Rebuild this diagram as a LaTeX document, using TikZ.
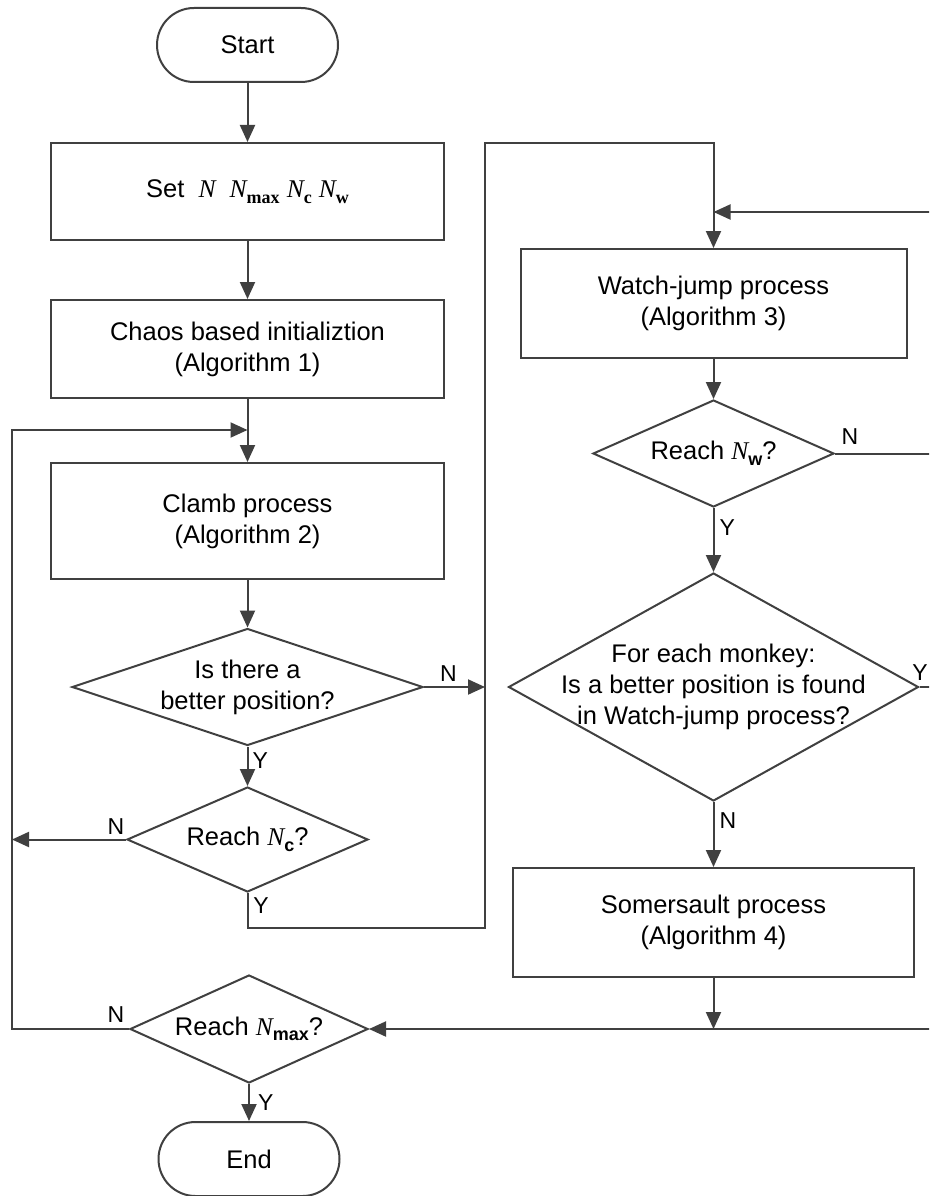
\documentclass[tikz,border=0pt]{standalone}
\usepackage{fontspec}
\setmainfont{Liberation Sans}
\newfontfamily\serifN{Liberation Serif}
\usetikzlibrary{shapes.geometric,arrows.meta}
\newcommand{\Nsans}[1]{{\serifN\itshape N}\raisebox{-0.22em}{\fontsize{18}{18}\selectfont\bfseries #1}}
\newcommand{\Nser}[1]{{\serifN\itshape N}\raisebox{-0.22em}{\serifN\fontsize{18}{18}\selectfont\bfseries #1}}
\begin{document}
\begin{tikzpicture}[x=1pt,y=-1pt,
  line width=2pt,
  every node/.style={font=\fontsize{25.5}{31}\selectfont, text=black},
  ln/.style={draw=lc, line width=2pt},
  arr/.style={ln, -{Triangle[length=17pt,width=15pt]}},
  term/.style={draw=lc, line width=2pt, rectangle, rounded corners=37pt, minimum width=181pt, minimum height=74pt, inner sep=0pt},
  proc/.style={draw=lc, line width=2pt, rectangle, align=center, inner sep=0pt},
  dia/.style={draw=lc, line width=2pt, diamond, inner sep=0pt},
  lab/.style={font=\fontsize{23}{23}\selectfont, inner sep=0pt}
]
\definecolor{lc}{HTML}{404040}
\clip (0,0) rectangle (929,1196);
\fill[white] (0,0) rectangle (929,1196);

% left column
\node[term] (start) at (247.5,45) {Start};
\node[proc, minimum width=393pt, minimum height=97pt] (set) at (247.5,191.5) {Set\ \ \Nser{}\ \ \Nser{max} \Nser{c} \Nser{w}};
\node[proc, minimum width=393pt, minimum height=98pt] (chaos) at (247.5,349) {Chaos based initializtion\\(Algorithm 1)};
\node[proc, minimum width=393pt, minimum height=116pt] (clamb) at (247.5,521) {Clamb process\\(Algorithm 2)};
\node[dia, minimum width=351pt, minimum height=117pt,
  label={[align=center]center:{Is there a\\better position?}}] (d1) at (247.5,687) {};
\node[dia, minimum width=241pt, minimum height=105pt,
  label={center:{Reach \Nsans{c}?}}] (d2) at (247.5,839.5) {};
\node[dia, minimum width=238pt, minimum height=108pt,
  label={center:{Reach \Nsans{max}?}}] (d5) at (249,1029) {};
\node[term] (end) at (249,1159) {End};

% right column
\node[proc, minimum width=386pt, minimum height=109pt] (watch) at (713.5,303.5) {Watch-jump process\\(Algorithm 3)};
\node[dia, minimum width=241pt, minimum height=107pt,
  label={center:{Reach \Nsans{w}?}}] (d3) at (713.5,453.5) {};
\node[dia, minimum width=410pt, minimum height=228pt,
  label={[align=center]center:{For each monkey:\\Is a better position is found\\in Watch-jump process?}}] (d4) at (713.5,687) {};
\node[proc, minimum width=401pt, minimum height=109pt] (soma) at (713.5,922.5) {Somersault process\\(Algorithm 4)};

% coordinates
\coordinate (mL) at (247.5,430);
\coordinate (lx1) at (12,839.5);
\coordinate (lx2) at (12,1029);
\coordinate (lx3) at (12,430);
\coordinate (j1) at (485,687);
\coordinate (c1) at (247.5,928);
\coordinate (c2) at (485,928);
\coordinate (c3) at (485,143);
\coordinate (c4) at (713.5,143);
\coordinate (rTop) at (945,212);
\coordinate (mR) at (713.5,212);
\coordinate (r3) at (945,453.5);
\coordinate (r4) at (945,687);
\coordinate (rBot) at (945,1029);
\coordinate (mB) at (713.5,1029);

% connectors
\draw[arr] (start) -- (set);
\draw[arr] (set) -- (chaos);
\draw[arr] (chaos) -- (clamb);
\draw[arr] (clamb) -- (d1);
\draw[arr] (d1.east) -- (j1) node[lab, pos=0.4, above=5pt] {N};
\draw[arr] (d1.south) -- (d2.north) node[lab, pos=0.35, right=4pt] {Y};
\draw[arr] (d2.west) -- (lx1);
\node[lab] at (116,827) {N};
\draw[arr] (d2.south) -- (c1) -- (c2) -- (c3) -- (c4) -- (watch.north);
\node[lab] at (261,906) {Y};
\draw[arr] (rTop) -- (mR);
\draw[arr] (watch) -- (d3);
\draw[ln] (d3.east) -- (r3);
\node[lab] at (850,437) {N};
\draw[arr] (d3.south) -- (d4.north) node[lab, pos=0.3, right=5pt] {Y};
\draw[ln] (d4.east) -- (r4);
\node[lab] at (920,673) {Y};
\draw[arr] (d4.south) -- (soma.north) node[lab, pos=0.28, right=5pt] {N};
\draw[arr] (soma.south) -- (mB);
\draw[arr] (rBot) -- (d5.east);
\draw[arr] (d5.west) -- (lx2) -- (lx3) -- (mL);
\node[lab] at (116,1015) {N};
\draw[arr] (d5.south) -- (end.north) node[lab, midway, right=8pt] {Y};
\end{tikzpicture}
\end{document}
